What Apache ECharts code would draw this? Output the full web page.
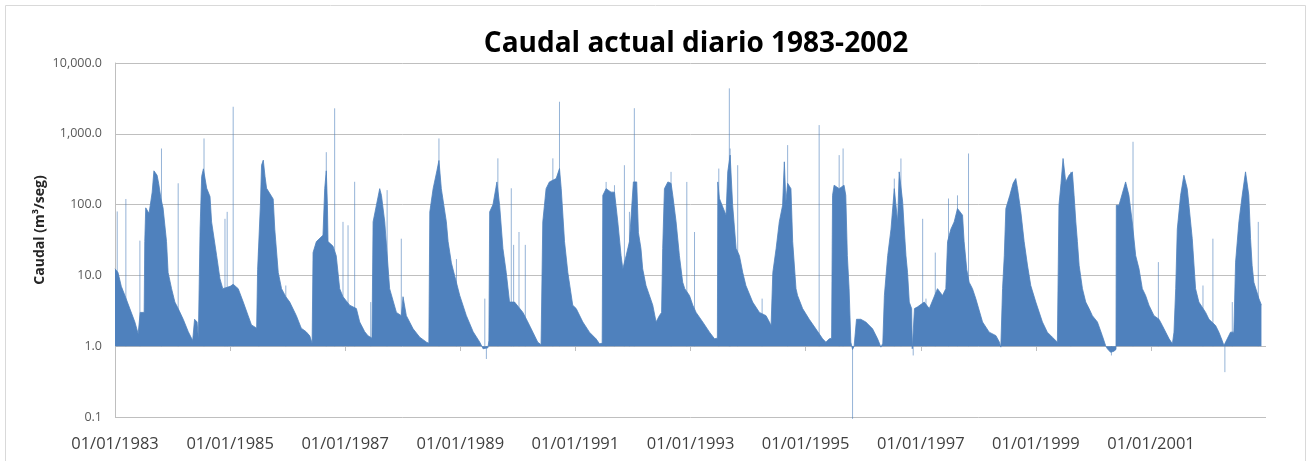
<!DOCTYPE html>
<html>
<head>
<meta charset="utf-8">
<title>Caudal actual diario 1983-2002</title>
<script src="https://cdn.jsdelivr.net/npm/echarts@6/dist/echarts.min.js"></script>
<style>
html, body { margin:0; padding:0; background:#fff; }
#grafico { width:1312px; height:461px; }
</style>
</head>
<body>
<div id="grafico"></div>
<script>
// etiquetas del eje x (cada 2 años)
var etiquetasX = ['01/01/1983','01/01/1985','01/01/1987','01/01/1989','01/01/1991',
                  '01/01/1993','01/01/1995','01/01/1997','01/01/1999','01/01/2001'];

// caudal diario (m3/seg), por tramos
var tramo1983 = [
  ['1983-01-01',12.4],['1983-01-20',11],['1983-02-10',7],['1983-03-05',5.2],['1983-04-05',3.4],
  ['1983-05-07',2.2],['1983-05-28',1.5],['1983-06-10',3.0],['1983-07-05',3.0],['1983-07-09',30],
  ['1983-07-15',90],['1983-08-05',75],['1983-08-25',150],['1983-09-05',300],['1983-09-25',260],
  ['1983-10-05',200],['1983-10-20',120],['1983-11-02',90],['1983-11-24',30],['1983-12-04',11],
  ['1983-12-26',6.5],['1984-01-16',4.2],['1984-02-06',3.4],['1984-03-09',2.4],['1984-04-10',1.6],
  ['1984-05-08',1.2],['1984-05-20',2.4],['1984-06-05',2.2],['1984-06-13',1.3],['1984-06-24',45],
  ['1984-07-04',250],['1984-07-15',320],['1984-08-05',170],['1984-08-26',130],['1984-09-05',57],
  ['1984-10-07',19],['1984-10-28',9],['1984-11-15',6.5],['1985-01-01',7],['1985-01-20',7.5],
  ['1985-02-21',6.5],['1985-03-25',4.2],['1985-04-25',2.7],['1985-05-16',2.0],['1985-06-18',1.8],
  ['1985-06-24',12],['1985-07-12',100],['1985-07-19',360],['1985-07-30',425],['1985-08-10',250],
  ['1985-08-20',170],['1985-10-01',120],['1985-10-11',45],['1985-11-02',11],['1985-11-23',6.5],
  ['1985-12-20',5],['1986-01-14',4.2],['1986-02-25',2.7],['1986-03-28',1.8],['1986-04-28',1.6],
  ['1986-05-21',1.4]
];
var tramo1986 = [
  ['1986-06-05',1.1],['1986-06-11',21],['1986-07-02',30],['1986-08-13',37],['1986-08-24',168],
  ['1986-09-03',300],['1986-09-10',100],['1986-09-14',30],['1986-10-15',26],['1986-11-05',19],
  ['1986-11-27',6.5],['1986-12-18',5],['1987-01-29',3.8],['1987-03-13',3.4],['1987-04-03',2.2],
  ['1987-05-05',1.6],['1987-05-26',1.4],['1987-06-20',1.3],['1987-06-27',57],['1987-07-18',98],
  ['1987-08-08',168],['1987-08-19',135],['1987-09-09',57],['1987-10-10',6.5],['1987-11-22',3.0],
  ['1987-12-23',2.7],['1988-01-03',5],['1988-01-24',2.7],['1988-03-07',1.76],['1988-04-18',1.34],
  ['1988-05-31',1.14],['1988-06-15',1.1],['1988-06-21',79],['1988-07-12',168],['1988-08-05',300],
  ['1988-08-18',420],['1988-09-02',168],['1988-10-04',57],['1988-10-15',30],['1988-11-05',15],
  ['1988-12-28',5.2],['1989-02-08',2.7],['1989-03-23',1.6],['1989-05-04',1.14],['1989-05-25',0.92],
  ['1989-06-25',0.95],['1989-07-01',1.2]
];
var tramo1989 = [
  ['1989-07-06',79],['1989-07-27',100],['1989-08-21',209],['1989-09-07',98],['1989-09-28',24],
  ['1989-10-19',11],['1989-11-09',4.2],['1989-12-11',4.2],['1990-02-02',3.0],['1990-03-05',2.2],
  ['1990-04-06',1.58],['1990-05-07',1.14],['1990-05-28',1.05],['1990-06-03',1.1],['1990-06-08',57],
  ['1990-06-29',168],['1990-07-20',209],['1990-09-01',233],['1990-09-22',323],['1990-10-03',168],
  ['1990-10-24',30],['1990-11-14',11],['1990-12-15',3.8],['1991-01-06',3.4],['1991-02-17',2.2],
  ['1991-03-31',1.58],['1991-05-12',1.27],['1991-06-03',1.08],['1991-06-20',1.1],['1991-06-24',135],
  ['1991-07-15',168],['1991-08-15',150],['1991-09-06',150],['1991-09-27',57],['1991-10-18',19],
  ['1991-10-29',12.4],['1991-11-19',19],['1991-12-10',30],['1992-01-04',209],['1992-01-25',209],
  ['1992-02-05',40],['1992-02-21',24],['1992-03-03',12.4],['1992-03-24',7.2],['1992-05-06',3.8],
  ['1992-05-27',2.2],['1992-06-17',2.7],['1992-07-01',3]
];
var tramo1992 = [
  ['1992-07-08',24],['1992-07-19',168],['1992-08-10',209],['1992-08-30',200],['1992-09-10',135],
  ['1992-10-01',57],['1992-10-22',19],['1992-11-12',8],['1992-11-25',6.5],['1992-12-25',5.2],
  ['1993-01-15',3.8],['1993-02-05',3.0],['1993-03-19',2.2],['1993-05-01',1.58],['1993-06-02',1.27],
  ['1993-06-13',1.2],['1993-06-20',1.3],['1993-06-23',209],['1993-07-03',122],['1993-08-14',71],
  ['1993-08-25',290],['1993-09-09',500],['1993-09-25',98],['1993-10-17',24],['1993-11-07',19],
  ['1993-11-28',11],['1993-12-18',7.2],['1994-01-30',4.2],['1994-03-14',3.0],['1994-04-25',2.7],
  ['1994-05-16',2.2],['1994-05-27',1.96],['1994-06-07',11],['1994-06-28',24],['1994-07-18',57],
  ['1994-08-08',98],['1994-08-19',402],['1994-08-29',109],['1994-09-09',200],['1994-09-30',168],
  ['1994-10-11',30],['1994-11-01',6.5],['1994-11-11',5.2],['1994-12-13',3.4],['1995-01-24',2.4],
  ['1995-03-07',1.76],['1995-04-19',1.27],['1995-05-10',1.14],['1995-05-31',1.27],['1995-06-15',1.3]
];
var tramo1995 = [
  ['1995-06-21',135],['1995-07-01',188],['1995-08-02',168],['1995-09-02',188],['1995-09-13',135],
  ['1995-09-23',19],['1995-10-04',6.5],['1995-10-15',1.14],['1995-10-26',0.9],['1995-11-05',1.0],
  ['1995-11-20',2.4],['1995-12-17',2.4],['1996-01-18',2.2],['1996-03-01',1.76],['1996-04-02',1.27],
  ['1996-04-23',0.97],['1996-05-05',1.1],['1996-05-15',5.2],['1996-06-05',19],['1996-06-26',45],
  ['1996-07-17',168],['1996-08-07',57],['1996-08-17',290],['1996-09-08',109],['1996-09-18',45],
  ['1996-09-29',19],['1996-10-09',11],['1996-10-20',4.2],['1996-11-04',3.4],['1996-11-08',0.92],
  ['1996-11-18',0.92],['1996-11-22',3.4],['1996-12-12',3.6],['1997-01-23',4.2],['1997-02-24',3.4],
  ['1997-04-17',6.5],['1997-05-19',5.2],['1997-06-09',6.5],['1997-06-20',30],['1997-07-11',45],
  ['1997-08-01',57],['1997-08-22',88],['1997-09-23',71],['1997-10-03',30],['1997-10-20',12],
  ['1997-11-04',8],['1997-11-25',6.5],['1997-12-16',4.7],['1998-01-28',2.2],['1998-03-11',1.58],
  ['1998-04-23',1.41],['1998-05-15',1.14],['1998-05-24',0.97],['1998-06-04',6.5],['1998-06-15',19],
  ['1998-06-25',88],['1998-07-20',135],['1998-08-10',200],['1998-08-27',233],['1998-09-07',168],
  ['1998-09-28',79],['1998-10-19',30],['1998-11-09',14],['1998-11-30',7.2],['1999-01-01',4.2],
  ['1999-02-12',2.2],['1999-03-15',1.58],['1999-04-16',1.34],['1999-05-18',1.14]
];
var tramo1999 = [
  ['1999-05-28',98],['1999-06-10',200],['1999-06-23',448],['1999-07-10',209],['1999-07-31',260],
  ['1999-08-21',290],['1999-09-01',135],['1999-09-12',57],['1999-09-22',30],['1999-10-03',13.8],
  ['1999-10-24',6.5],['1999-11-14',4.2],['1999-12-05',3.4],['1999-12-26',2.7],['2000-01-27',2.2],
  ['2000-02-27',1.41],['2000-03-19',1.02],['2000-03-30',0.92],['2000-04-20',0.82],['2000-05-11',0.85],
  ['2000-05-24',0.9],['2000-05-26',98],['2000-06-12',98],['2000-07-24',209],['2000-08-14',135],
  ['2000-09-04',57],['2000-09-26',19],['2000-10-17',12.4],['2000-11-07',6.5],['2000-11-28',5.2],
  ['2000-12-19',3.8],['2001-01-20',2.7],['2001-02-21',2.4],['2001-03-14',1.96],['2001-04-26',1.27],
  ['2001-05-17',1.08],['2001-05-27',1.58],['2001-06-07',6.5],['2001-06-17',45],['2001-07-08',135],
  ['2001-07-29',260],['2001-08-19',168],['2001-08-30',98],['2001-09-20',33],['2001-10-11',6.5],
  ['2001-11-01',4.2],['2001-12-14',3.0],['2002-01-04',2.4],['2002-02-15',1.96],['2002-03-08',1.58],
  ['2002-03-29',1.2],['2002-04-09',1.02],['2002-04-30',1.27],['2002-05-21',1.58],['2002-06-11',1.58],
  ['2002-06-22',15.4],['2002-07-13',57],['2002-08-03',135],['2002-08-24',290],['2002-09-14',135],
  ['2002-09-25',33],['2002-10-05',13.8],['2002-10-16',8],['2002-11-17',4.7],['2002-12-03',3.8]
];

// crecidas puntuales de un dia (lineas finas que salen del valor 1.0)
var picos = [
  ['1983-01-15',80],['1983-03-11',120],['1983-06-08',31],['1983-10-23',620],['1984-02-06',200],
  ['1984-07-19',860],['1984-11-29',63],['1984-12-13',79],['1985-01-20',2410],['1985-07-02',24],
  ['1985-12-20',7.2],['1986-09-03',550],['1986-10-26',2290],['1986-12-18',57],['1987-01-19',51],
  ['1987-03-02',210],['1987-06-12',4.2],['1987-09-24',160],['1987-12-23',33],['1988-08-18',860],
  ['1988-12-07',17],['1989-06-05',4.7],['1989-06-15',0.66],['1989-08-27',450],['1989-11-20',170],
  ['1989-12-05',27],['1990-01-08',41],['1990-02-17',27],['1990-08-11',450],['1990-09-22',2835],
  ['1991-07-15',209],['1991-09-06',188],['1991-11-08',360],['1991-12-10',79],['1992-01-10',2300],
  ['1992-08-30',290],['1992-12-08',209],['1993-01-26',41],['1993-06-29',323],['1993-09-04',4385],
  ['1993-09-09',620],['1993-10-27',360],['1994-03-31',4.7],['1994-09-09',692],['1995-03-28',1327],
  ['1995-08-02',500],['1995-08-27',620],['1995-10-26',0.094],['1996-07-17',233],['1996-08-28',448],
  ['1996-11-14',0.74],['1997-01-13',63],['1997-02-03',4.7],['1997-04-03',21],['1997-06-26',122],
  ['1997-08-22',135],['1997-10-31',527],['1999-08-11',290],['2000-04-25',0.74],['2000-09-09',771],
  ['2001-02-17',15.4],['2001-11-27',7.2],['2002-01-29',33],['2002-04-15',0.43],['2002-06-01',4.2],
  ['2002-11-13',57]
];

var azul = '#4f81bd';
var gris = '#bfbfbf';

// fechas a milisegundos (eje x numerico)
function isoAMs(txt) {
  var p = txt.split('-');
  return Date.UTC(+p[0], +p[1] - 1, +p[2]);
}
function etiquetaAMs(txt) {
  var p = txt.split('/');
  return Date.UTC(+p[2], +p[1] - 1, +p[0]);
}
function aPuntos(lista) {
  return lista.map(function (d) { return [isoAMs(d[0]), d[1]]; });
}

var caudal = aPuntos([].concat(tramo1983, tramo1986, tramo1989, tramo1992, tramo1995, tramo1999));
var datosPicos = aPuntos(picos);
var ticksX = etiquetasX.map(etiquetaAMs);
var inicio = ticksX[0];
var fin = Date.UTC(2003, 0, 1);

var chart = echarts.init(document.getElementById('grafico'));
chart.setOption({
  animation: false,
  title: {
    text: 'Caudal actual diario 1983-2002',
    left: 691, top: 25, textAlign: 'center',
    textStyle: { fontFamily: 'Open Sans', fontWeight: 'bold', fontSize: 28, color: '#000' }
  },
  graphic: [
    {
      type: 'rect', silent: true,
      shape: { x: 5.5, y: 5.5, width: 1300, height: 480 },
      style: { fill: 'none', stroke: '#d9d9d9', lineWidth: 1 }
    },
    {
      // titulo del eje y
      type: 'text', silent: true,
      x: 40, y: 230, rotation: Math.PI / 2,
      style: {
        text: 'Caudal (m³/seg)', align: 'center', verticalAlign: 'middle',
        font: 'bold 14px "Open Sans"', fill: '#262626'
      }
    }
  ],
  grid: [
    { left: 115, right: 46, top: 63, bottom: 44 },
    // grid auxiliar solo para las marcas del eje en 1.0
    { left: 115, right: 46, top: 63, height: 283 }
  ],
  xAxis: [
    {
      type: 'value', gridIndex: 0, min: inicio, max: fin,
      axisLine: { show: false },
      axisTick: { show: false },
      splitLine: { show: false },
      axisLabel: {
        customValues: ticksX,
        formatter: function (v) { return etiquetasX[ticksX.indexOf(v)] || ''; },
        fontFamily: 'Open Sans', fontSize: 16.5, color: '#404040', margin: 19
      }
    },
    {
      type: 'value', gridIndex: 1, min: inicio, max: fin,
      axisLine: { show: false },
      axisTick: { show: true, customValues: ticksX, length: 5, lineStyle: { color: gris } },
      axisLabel: { show: false },
      splitLine: { show: false }
    }
  ],
  yAxis: [
    {
      type: 'log', gridIndex: 0, logBase: 10, min: 0.1, max: 10000,
      axisLine: { show: true, lineStyle: { color: gris } },
      axisTick: { show: false },
      splitLine: { show: true, lineStyle: { color: gris } },
      axisLabel: {
        fontFamily: 'Open Sans', fontSize: 12.5, color: '#595959', margin: 13,
        formatter: function (v) {
          return Number(v).toLocaleString('en-US', { minimumFractionDigits: 1, maximumFractionDigits: 1 });
        }
      }
    },
    { type: 'log', gridIndex: 1, min: 1, max: 10000, show: false }
  ],
  series: [
    {
      name: 'Caudal',
      type: 'line',
      xAxisIndex: 0, yAxisIndex: 0,
      data: caudal,
      symbol: 'none',
      silent: true,
      lineStyle: { width: 0.8, color: azul },
      areaStyle: { origin: 1, color: azul, opacity: 1 }
    },
    {
      name: 'Picos',
      type: 'custom',
      xAxisIndex: 0, yAxisIndex: 0,
      data: datosPicos,
      encode: { x: 0, y: 1 },
      silent: true,
      renderItem: function (params, api) {
        var p = api.coord([api.value(0), api.value(1)]);
        var b = api.coord([api.value(0), 1]);
        return {
          type: 'line',
          shape: { x1: p[0], y1: p[1], x2: b[0], y2: b[1] },
          style: { stroke: azul, lineWidth: 1, opacity: 0.6 }
        };
      }
    }
  ]
});
</script>
</body>
</html>
